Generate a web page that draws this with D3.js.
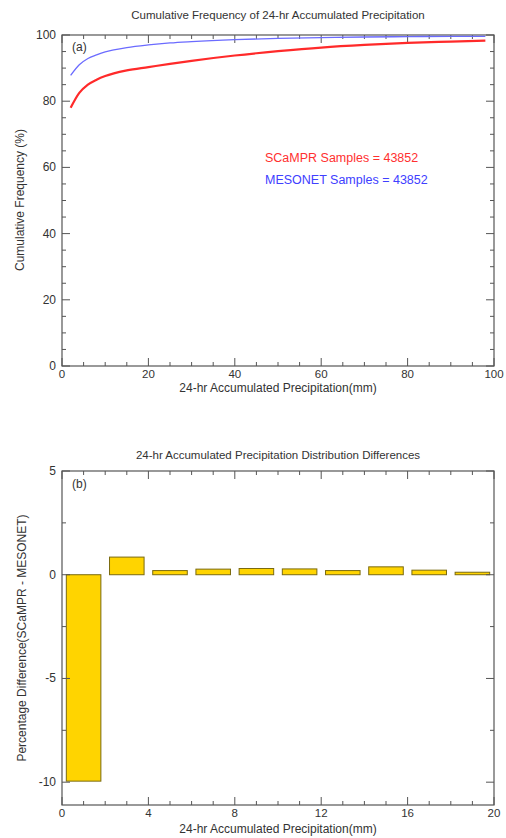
<!DOCTYPE html>
<html><head><meta charset="utf-8">
<script src="https://cdn.jsdelivr.net/npm/d3@7/dist/d3.min.js"></script>
<style>body{margin:0;background:#fff}svg{display:block}text{font-family:"Liberation Sans",Arial,Helvetica,sans-serif;fill:#333}</style>
</head><body>
<svg id="c" width="506" height="838"></svg>
<script>
// Panel (a) data
const precipX = [2,4,6,8,10,12,15,20,25,30,40,50,60,70,80,90,98];
const scamprCum = [78,82.5,85,86.5,87.6,88.4,89.3,90.3,91.3,92.2,93.8,95.1,96.2,97.0,97.6,98.0,98.3];
const mesonetCum = [87.8,91,92.9,94,94.9,95.5,96.2,97,97.6,98,98.6,99,99.2,99.4,99.5,99.6,99.6];
const xTicksA = [0,20,40,60,80,100];
const yTicksA = [0,20,40,60,80,100];
// Panel (b) data
const binCenters = [1,3,5,7,9,11,13,15,17,19];
const diffValues = [-9.95,0.85,0.2,0.27,0.3,0.28,0.2,0.38,0.22,0.12];
const xTicksB = [0,4,8,12,16,20];
const yTicksB = [-10,-5,0,5];

const svg = d3.select("#c");
const L = 62, R = 494;
const axisColor = "#555";

function frame(g, x, y, majX, minX, majY, minY){
  const [x0,x1] = x.range(), [y0,y1] = y.range();
  const tg = g.append("g").attr("stroke", axisColor).attr("stroke-width", 1);
  minX.forEach(v=>{const px=x(v);
    tg.append("line").attr("x1",px).attr("x2",px).attr("y1",y0).attr("y2",y0-4);
    tg.append("line").attr("x1",px).attr("x2",px).attr("y1",y1).attr("y2",y1+4);});
  majX.forEach(v=>{const px=x(v);
    tg.append("line").attr("x1",px).attr("x2",px).attr("y1",y0).attr("y2",y0-8);
    tg.append("line").attr("x1",px).attr("x2",px).attr("y1",y1).attr("y2",y1+8);});
  minY.forEach(v=>{const py=y(v);
    tg.append("line").attr("x1",x0).attr("x2",x0+4).attr("y1",py).attr("y2",py);
    tg.append("line").attr("x1",x1).attr("x2",x1-4).attr("y1",py).attr("y2",py);});
  majY.forEach(v=>{const py=y(v);
    tg.append("line").attr("x1",x0).attr("x2",x0+8).attr("y1",py).attr("y2",py);
    tg.append("line").attr("x1",x1).attr("x2",x1-8).attr("y1",py).attr("y2",py);});
  g.append("rect").attr("x",x0).attr("y",y1).attr("width",x1-x0).attr("height",y0-y1)
    .attr("fill","none").attr("stroke",axisColor).attr("stroke-width",1.2);
  majX.forEach(v=>g.append("text").attr("x",x(v)).attr("y",y0+12).attr("text-anchor","middle")
    .attr("font-size",11.5).text(v));
  majY.forEach(v=>g.append("text").attr("x",x0-6).attr("y",y(v)+4).attr("text-anchor","end")
    .attr("font-size",12).text(v));
}

// ---------- Panel (a)
const xa = d3.scaleLinear().domain([0,100]).range([L,R]);
const ya = d3.scaleLinear().domain([0,100]).range([366,35]);
const ga = svg.append("g");
frame(ga, xa, ya, xTicksA, d3.range(0,101,5).filter(v=>v%20), yTicksA, d3.range(0,101,5).filter(v=>v%20));
const line = d3.line().x(d=>xa(d[0])).y(d=>ya(d[1])).curve(d3.curveMonotoneX);
ga.append("path").attr("d", line(precipX.map((v,i)=>[v,mesonetCum[i]]))).attr("fill","none").attr("stroke","#6b6bff").attr("stroke-width",1.3);
ga.append("path").attr("d", line(precipX.map((v,i)=>[v,scamprCum[i]]))).attr("fill","none").attr("stroke","#ff2a2a").attr("stroke-width",2.2);
ga.append("text").attr("x",278).attr("y",19).attr("text-anchor","middle").attr("font-size",11.5).text("Cumulative Frequency of 24-hr Accumulated Precipitation");
ga.append("text").attr("x",72).attr("y",51).attr("font-size",12).text("(a)");
ga.append("text").attr("x",265).attr("y",162).attr("font-size",12.5).style("fill","#ff3030").text("SCaMPR Samples = 43852");
ga.append("text").attr("x",265).attr("y",184).attr("font-size",12.5).style("fill","#4040ff").text("MESONET Samples = 43852");
ga.append("text").attr("x",278).attr("y",392).attr("text-anchor","middle").attr("font-size",12).text("24-hr Accumulated Precipitation(mm)");
ga.append("text").attr("transform","translate(24,200) rotate(-90)").attr("text-anchor","middle").attr("font-size",12).text("Cumulative Frequency (%)");

// ---------- Panel (b)
const xb = d3.scaleLinear().domain([0,20]).range([L,R]);
const yb = d3.scaleLinear().domain([-11.1,5]).range([805,471]);
const gb = svg.append("g");
gb.selectAll("rect.bar").data(binCenters).join("rect").attr("class","bar")
  .attr("x",d=>xb(d-0.8)).attr("width",d=>xb(d+0.8)-xb(d-0.8))
  .attr("y",(d,i)=>yb(Math.max(0,diffValues[i])))
  .attr("height",(d,i)=>Math.abs(yb(diffValues[i])-yb(0)))
  .attr("fill","#ffd400").attr("stroke","#7a6a10").attr("stroke-width",1);
frame(gb, xb, yb, xTicksB, d3.range(0,21,1).filter(v=>v%4), yTicksB, [-7.5,-2.5,2.5]);
gb.append("text").attr("x",278).attr("y",459).attr("text-anchor","middle").attr("font-size",11.5).text("24-hr Accumulated Precipitation Distribution Differences");
gb.append("text").attr("x",72).attr("y",488).attr("font-size",12).text("(b)");
gb.append("text").attr("x",278).attr("y",833).attr("text-anchor","middle").attr("font-size",12).text("24-hr Accumulated Precipitation(mm)");
gb.append("text").attr("transform","translate(26,638) rotate(-90)").attr("text-anchor","middle").attr("font-size",12).text("Percentage Difference(SCaMPR - MESONET)");
</script>
</body></html>
